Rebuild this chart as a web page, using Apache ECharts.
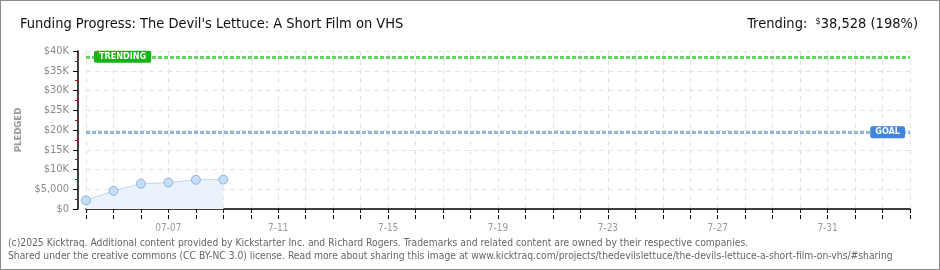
<!DOCTYPE html>
<html style="height: 100%">
<head>
  <meta charset="utf-8">
  <script src="https://cdn.jsdelivr.net/npm/echarts@6/dist/echarts.min.js"></script>
  <style type="text/css">
    * { margin: 0; padding: 0; }
    body { width: 940px; height: 270px; background: #fff; }
    #container { width: 938px; height: 268px; border: 1px solid #8a8a8a; }
  </style>
</head>
<body>
  <div id="container"></div>
  <script type="text/javascript">
    // campaign days (7-04 .. 8-03)
    var dates = ['7-04','7-05','7-06','7-07','7-08','7-09','7-10','7-11','7-12','7-13','7-14',
                 '7-15','7-16','7-17','7-18','7-19','7-20','7-21','7-22','7-23','7-24','7-25',
                 '7-26','7-27','7-28','7-29','7-30','7-31','8-01','8-02','8-03'];
    var xTickLabels = ['07-07','7-11','7-15','7-19','7-23','7-27','7-31'];
    var pledged = [2200, 4600, 6400, 6700, 7400, 7450];
    var yTickLabels = ['$0','$5,000','$10K','$15K','$20K','$25K','$30K','$35K','$40K'];
    var goal = 19458;
    var trending = 38528;

    var dom = document.getElementById('container');
    var myChart = echarts.init(dom);
    var font = '"DejaVu Sans Condensed", "Liberation Sans Narrow", sans-serif';

    var option = {
      animation: false,
      title: [{
        text: 'Funding Progress: The Devil\'s Lettuce: A Short Film on VHS',
        left: 19, top: 16, padding: 0,
        textStyle: { fontFamily: font, fontSize: 14.5, fontWeight: 'normal', color: '#111' }
      }, {
        text: 'Trending:  {s|$}38,528 (198%)',
        right: 21, top: 16, padding: 0,
        textStyle: { fontFamily: font, fontSize: 14.5, fontWeight: 'normal', color: '#111',
          rich: { s: { fontSize: 9, verticalAlign: 'top', color: '#111', fontFamily: font, padding: [0, 0, 6, 0] } } }
      }, {
        text: '(c)2025 Kicktraq. Additional content provided by Kickstarter Inc. and Richard Rogers. Trademarks and related content are owned by their respective companies.\nShared under the creative commons (CC BY-NC 3.0) license. Read more about sharing this image at www.kicktraq.com/projects/thedevilslettuce/the-devils-lettuce-a-short-film-on-vhs/#sharing',
        left: 7, top: 236, padding: 0,
        textStyle: { fontFamily: font, fontSize: 10.25, fontWeight: 'normal', color: '#666', lineHeight: 13 }
      }],
      grid: { left: 85, right: 29, top: 50, bottom: 60 },
      xAxis: [{
        type: 'category',
        data: dates,
        boundaryGap: false,
        offset: 10,
        axisLine: { lineStyle: { color: '#000', width: 1.5 } },
        axisTick: { interval: 0, length: 4, lineStyle: { color: '#000' } },
        axisLabel: {
          interval: function (i) { return i % 4 === 3; },
          formatter: function (v, i) { return xTickLabels[(i - 3) / 4]; },
          color: '#999', fontFamily: font, fontSize: 10, margin: 4
        },
        splitLine: { show: true, interval: 0, lineStyle: { color: '#e3e3e3', type: [5, 4] } }
      }, {
        type: 'category',
        data: dates,
        boundaryGap: false,
        position: 'bottom',
        offset: 10,
        axisLine: { show: false },
        axisTick: { inside: true, interval: 0, length: 4, lineStyle: { color: '#000' } },
        axisLabel: { show: false }
      }],
      yAxis: {
        type: 'value',
        min: 0, max: 40000, interval: 5000,
        offset: 8,
        name: 'PLEDGED',
        nameLocation: 'middle',
        nameGap: 53,
        nameTextStyle: { color: '#999', fontFamily: font, fontSize: 9.5, fontWeight: 'bold' },
        axisLine: { show: true, lineStyle: { color: '#000', width: 1.5 } },
        axisTick: { show: true, length: 5, lineStyle: { color: '#000' } },
        minorTick: { show: true, splitNumber: 2, length: 3, lineStyle: { color: '#e00000' } },
        axisLabel: {
          formatter: function (v) { return yTickLabels[v / 5000]; },
          color: '#8a8a8a', fontFamily: font, fontSize: 11, margin: 9
        },
        splitLine: { lineStyle: { color: '#e3e3e3', type: [5, 4] } }
      },
      series: [{
        name: 'Pledged',
        type: 'line',
        data: pledged,
        symbol: 'circle',
        symbolSize: 9,
        lineStyle: { color: '#bcd5f1', width: 1 },
        itemStyle: { color: '#c6ddf6', borderColor: '#8fb2de', borderWidth: 1 },
        areaStyle: { color: '#eaf2fc', opacity: 1 },
        markLine: {
          silent: true,
          symbol: 'none',
          data: [{
            yAxis: trending,
            lineStyle: { color: '#62d862', width: 3, type: [4, 2] },
            label: {
              formatter: 'TRENDING', position: 'insideStartTop', distance: [8, 0],
              verticalAlign: 'middle', align: 'left',
              backgroundColor: '#16b416', color: '#fff', padding: [2, 5, 1, 5], borderRadius: 2,
              fontFamily: font, fontSize: 9, fontWeight: 'bold'
            }
          }, {
            yAxis: goal,
            lineStyle: { color: '#93b5de', width: 3, type: [4, 2] },
            label: {
              formatter: 'GOAL', position: 'insideEndTop', distance: [5, 0],
              verticalAlign: 'middle', align: 'right',
              backgroundColor: '#3d86d8', color: '#fff', padding: [2, 5, 1, 5], borderRadius: 2,
              fontFamily: font, fontSize: 9, fontWeight: 'bold'
            }
          }]
        }
      }]
    };

    myChart.setOption(option, true);
  </script>
</body>
</html>
